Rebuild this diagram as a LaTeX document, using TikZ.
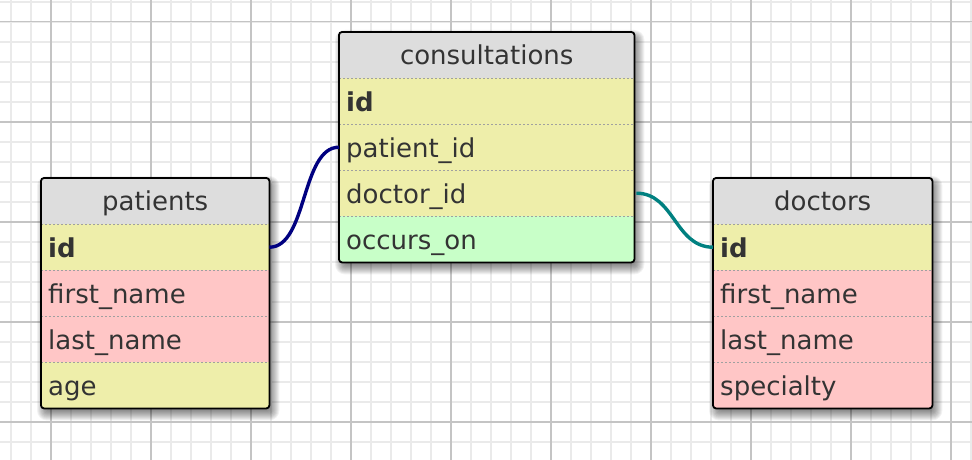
\documentclass[tikz,border=0pt]{standalone}
\usepackage{fontspec}
\setmainfont{DejaVu Sans}
\definecolor{txt}{HTML}{333333}
\definecolor{hdr}{HTML}{DDDDDD}
\definecolor{ylw}{HTML}{EEEEAA}
\definecolor{pnk}{HTML}{FFC6C6}
\definecolor{grn}{HTML}{C8FFC8}
\definecolor{minorg}{HTML}{EAEAEA}
\definecolor{majorg}{HTML}{C4C4C4}
\definecolor{sepg}{HTML}{A0A0A0}
\definecolor{navyc}{HTML}{000080}
\definecolor{tealc}{HTML}{008080}
\tikzset{
  tablebox/.style={draw=none, rectangle, anchor=north west, inner sep=0pt},
  border/.style={draw=black, line width=1.8pt, rounded corners=3pt},
  hcell/.style={rectangle, fill=hdr, anchor=north west, inner sep=0pt, minimum height=46pt, text=txt,
    text height=25pt, text depth=7pt, font=\fontsize{26}{31}\selectfont},
  fcell/.style={rectangle, anchor=north west, inner xsep=7pt, inner ysep=0pt, minimum height=46pt, text=txt,
    text height=26pt, text depth=6pt, align=left, font=\fontsize{26}{31}\selectfont},
  sep/.style={draw=sepg, line width=1.5pt, dash pattern=on 2pt off 2pt},
  link/.style={line width=3.4pt},
  shadowstack/.style={fill=black, fill opacity=0.05},
}
\newcommand{\tableshadow}[2]{% #1 = NW corner, #2 = SE corner
  \foreach \e in {-3,-2,...,7}{
    \pgfmathsetmacro{\rc}{max(3,\e+3)}
    \fill[shadowstack, rounded corners=\rc pt] ([shift={(3-\e,5-\e)}]#1) rectangle ([shift={(3+\e,5+\e)}]#2);
  }
}
\begin{document}
\begin{tikzpicture}[x=1pt,y=-1pt]
\useasboundingbox (0,0) rectangle (972,460);
\fill[white] (0,0) rectangle (972,460);
% grid
\foreach \x in {10.7,30.7,...,972} \draw[minorg, line width=2pt] (\x,0) -- (\x,460);
\foreach \y in {1.7,21.7,...,460} \draw[minorg, line width=2pt] (0,\y) -- (972,\y);
\foreach \x in {50.7,150.7,...,972} \draw[majorg, line width=1.6pt] (\x,0) -- (\x,460);
\foreach \y in {21.7,121.7,...,460} \draw[majorg, line width=1.6pt] (0,\y) -- (972,\y);

% ---------- patients ----------
\node[tablebox, minimum width=228pt, minimum height=230pt] (patients) at (41,178) {};
\tableshadow{patients.north west}{patients.south east}
\begin{scope}
\clip[rounded corners=3pt] (41,178) rectangle (269,408);
\node[hcell, minimum width=228pt] (p-h) at (41,178) {patients};
\node[fcell, fill=ylw, text width=214pt] (p-id) at (41,224) {\textbf{id}};
\node[fcell, fill=pnk, text width=214pt] (p-fn) at (41,270) {first\_name};
\node[fcell, fill=pnk, text width=214pt] (p-ln) at (41,316) {last\_name};
\node[fcell, fill=ylw, text width=214pt] (p-age) at (41,362) {age};
\end{scope}
\draw[sep] (p-h.south west) -- (p-h.south east);
\draw[sep] (p-id.south west) -- (p-id.south east);
\draw[sep] (p-fn.south west) -- (p-fn.south east);
\draw[sep] (p-ln.south west) -- (p-ln.south east);
\draw[border] (patients.north west) rectangle (patients.south east);

% ---------- consultations ----------
\node[tablebox, minimum width=295pt, minimum height=230pt] (consult) at (339,32) {};
\tableshadow{consult.north west}{consult.south east}
\begin{scope}
\clip[rounded corners=3pt] (339,32) rectangle (634,262);
\node[hcell, minimum width=295pt] (c-h) at (339,32) {consultations};
\node[fcell, fill=ylw, text width=281pt] (c-id) at (339,78) {\textbf{id}};
\node[fcell, fill=ylw, text width=281pt] (c-pid) at (339,124) {patient\_id};
\node[fcell, fill=ylw, text width=281pt] (c-did) at (339,170) {doctor\_id};
\node[fcell, fill=grn, text width=281pt] (c-on) at (339,216) {occurs\_on};
\end{scope}
\draw[sep] (c-h.south west) -- (c-h.south east);
\draw[sep] (c-id.south west) -- (c-id.south east);
\draw[sep] (c-pid.south west) -- (c-pid.south east);
\draw[sep] (c-did.south west) -- (c-did.south east);
\draw[border] (consult.north west) rectangle (consult.south east);

% ---------- doctors ----------
\node[tablebox, minimum width=219pt, minimum height=230pt] (doctors) at (713,178) {};
\tableshadow{doctors.north west}{doctors.south east}
\begin{scope}
\clip[rounded corners=3pt] (713,178) rectangle (932,408);
\node[hcell, minimum width=219pt] (d-h) at (713,178) {doctors};
\node[fcell, fill=ylw, text width=205pt] (d-id) at (713,224) {\textbf{id}};
\node[fcell, fill=pnk, text width=205pt] (d-fn) at (713,270) {first\_name};
\node[fcell, fill=pnk, text width=205pt] (d-ln) at (713,316) {last\_name};
\node[fcell, fill=pnk, text width=205pt] (d-sp) at (713,362) {specialty};
\end{scope}
\draw[sep] (d-h.south west) -- (d-h.south east);
\draw[sep] (d-id.south west) -- (d-id.south east);
\draw[sep] (d-fn.south west) -- (d-fn.south east);
\draw[sep] (d-ln.south west) -- (d-ln.south east);
\draw[border] (doctors.north west) rectangle (doctors.south east);

% ---------- links ----------
\draw[link, navyc] (p-id.east) .. controls +(38,0) and +(-38,0) .. (c-pid.west);
\draw[link, tealc] ([xshift=2pt]c-did.east) .. controls +(38,0) and +(-38,0) .. (d-id.west);
\end{tikzpicture}
\end{document}
